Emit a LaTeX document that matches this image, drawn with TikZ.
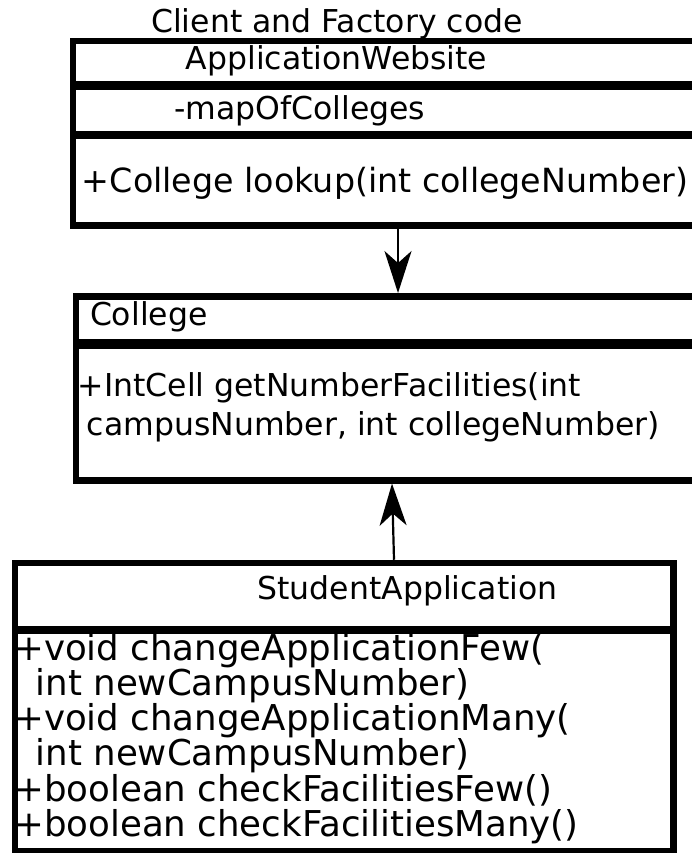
\documentclass[tikz,border=0pt]{standalone}
\usepackage{fontspec}
\setmainfont{DejaVu Sans}
\usetikzlibrary{arrows.meta}

\tikzset{
  umlbox/.style={draw, rectangle, line width=6.5pt, inner sep=0pt},
  divider/.style={line width=#1},
  assoc/.style={line width=2.2pt, -{Stealth[length=42pt, width=27pt, inset=12pt]}},
  txt/.style={anchor=base west, inner sep=0pt, font=\fontsize{31.5}{37}\selectfont},
  txtmid/.style={txt, font=\fontsize{33.3}{38}\selectfont},
  txtbig/.style={txt, font=\fontsize{35.6}{35}\selectfont},
}

\begin{document}
\begin{tikzpicture}[x=1pt, y=-1pt]
  \useasboundingbox (0,0) rectangle (692,853);
  \clip (0,0) rectangle (692,853);
  \fill[white] (0,0) rectangle (692,853);

  % ApplicationWebsite class (right side runs off the page)
  \node[umlbox, minimum width=647pt, minimum height=184.5pt] (aw) at (396.5,133.25) {};
  \draw[divider=9pt] (73,85.5) -- (720,85.5);
  \draw[divider=8pt] (73,135) -- (720,135);
  \node[txt] (awtitle) at (151,33) {Client and Factory code};
  \node[txt] (awname) at (185.5,70) {ApplicationWebsite};
  \node[txt] (awattr) at (174,119.3) {-mapOfColleges};
  \node[txtmid] (awop) at (81.7,193) {+College lookup(int collegeNumber)};

  % College class
  \node[umlbox, minimum width=644pt, minimum height=184pt] (col) at (398,388.3) {};
  \draw[divider=10pt] (76,343.5) -- (720,343.5);
  \node[txt] (colname) at (89.8,325) {College};
  \node[txt] (colop1) at (77.5,396.7) {+IntCell getNumberFacilities(int};
  \node[txt] (colop2) at (86.6,435) {campusNumber, int collegeNumber)};

  % StudentApplication class
  \node[umlbox, minimum width=658.5pt, minimum height=288pt] (sa) at (344.25,707) {};
  \draw[divider=8pt] (15,630) -- (673.5,630);
  \node[txt] (saname) at (257.3,599.5) {StudentApplication};
  \node[txtbig] (sam1) at (14.1,660)   {+void changeApplicationFew(};
  \node[txtbig] (sam2) at (35.6,695)   {int newCampusNumber)};
  \node[txtbig] (sam3) at (14.1,730)   {+void changeApplicationMany(};
  \node[txtbig] (sam4) at (35.6,765)   {int newCampusNumber)};
  \node[txtbig] (sam5) at (14.1,801.5) {+boolean checkFacilitiesFew()};
  \node[txtbig] (sam6) at (14.1,836.7) {+boolean checkFacilitiesMany()};

  % associations
  \coordinate (a1) at (398,0);
  \coordinate (a2from) at (394,0);
  \coordinate (a2to) at (392,0);
  \draw[assoc] (aw.south -| a1) -- (col.north -| a1);
  \draw[assoc] (sa.north -| a2from) -- (col.south -| a2to);
\end{tikzpicture}
\end{document}
